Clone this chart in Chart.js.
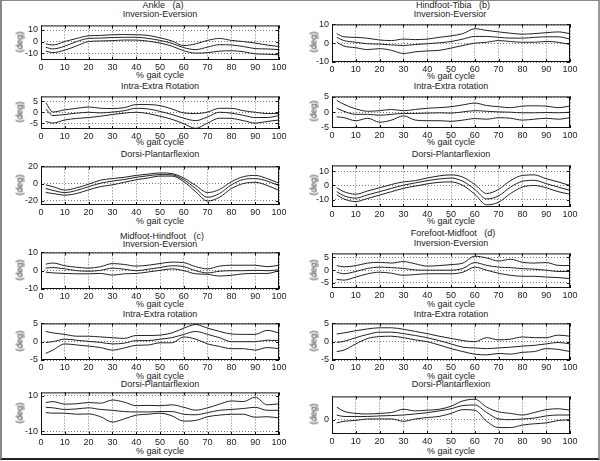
<!DOCTYPE html>
<html>
<head>
<meta charset="utf-8">
<script src="https://cdn.jsdelivr.net/npm/chart.js@4.4.1/dist/chart.umd.min.js"></script>
<style>
  body { margin: 0; background: #fff; }
  #page { position: relative; width: 600px; height: 461px; overflow: hidden; background: #fff;
          font-family: "Liberation Sans", Arial, sans-serif; color: #222; }
  .lbl { position: absolute; font-size: 9px; line-height: 1; white-space: pre; transform: translate(-50%, -50%); }
  .ylab { transform: translate(-50%, -50%) rotate(-90deg); }
  canvas { position: absolute; }
  #frame { position: absolute; left: 0; top: 0; width: 596px; height: 457px;
           border-left: 2px solid #888; border-bottom: 2px solid #222; border-right: 2px solid #999; border-top: 1px solid #888; }
</style>
</head>
<body>
<div id="page"><div id="frame"></div></div>
<script>
// % gait cycle sample points
const pct = [2, 5, 10, 15, 20, 25, 30, 35, 40, 45, 50, 55, 60, 65, 70, 75, 80, 85, 90, 95, 100];
const xTicks = [0, 10, 20, 30, 40, 50, 60, 70, 80, 90, 100];

// (a) Ankle
const ankleInvUp   = [-2, -3, 0, 2.7, 5, 5.3, 5.9, 6.1, 5.9, 5.3, 3.2, 0.5, -3.5, -2, 1, 2.7, 1, 0, -1.3, -3, -4.3];
const ankleInvMean = [-5, -6.4, -4, 0, 2.7, 3, 3.5, 3.7, 3.7, 2.7, 1, -1.6, -5.3, -7, -4.8, -2.7, -3, -4.3, -6.1, -6.4, -7];
const ankleInvLow  = [-8.3, -9.6, -7.5, -3.7, 0, 0.5, 0.8, 1.3, 1.3, 0.3, -1.3, -4, -8, -10, -9.6, -8.3, -8, -8.8, -10.7, -11, -11.5];
const ankleRotUp   = [4.4, 0.1, 1.1, 1.8, 2.4, 1.8, 1.7, 2.1, 3.5, 3.5, 3, 1.5, -0.3, -0.6, 0.1, 1.8, 1.8, 0.7, 0, -0.6, -0.6];
const ankleRotMean = [1.5, -1.5, -1, -0.4, 0, -0.3, 0.1, 0.7, 1.8, 1.5, 0.4, -1, -2.7, -3.8, -2.1, 0, -0.4, -1.4, -2.4, -2.4, -1.5];
const ankleRotLow  = [-4.2, -4.9, -3.5, -2.8, -2.4, -1.8, -1, -0.4, 0, -0.6, -1.8, -3.2, -5.2, -7.3, -4.9, -2.7, -2.8, -3.8, -4.9, -4.2, -3.5];
const ankleDorUp   = [-1.5, -3.6, -7.6, -5, -0.7, 4, 5.8, 7.3, 9.5, 11, 12.4, 11.6, 6.5, -2.2, -10.5, -6.9, 2.2, 8, 9.5, 5.8, 0.4];
const ankleDorMean = [-5.8, -8, -10.5, -8, -3.6, 0.4, 2.9, 4.7, 7.3, 9.1, 10.5, 10.2, 4.4, -5.8, -16, -11.6, -1.5, 4.7, 5.8, 2.9, -2.5];
const ankleDorLow  = [-10.5, -11.6, -13.5, -11.6, -7.3, -3.6, -1.5, 1.5, 4.4, 6.5, 8.7, 8.7, 2.2, -9.5, -20.4, -16, -5.8, 0, 1.5, -2.2, -8];

// (b) Hindfoot-Tibia
const hindInvUp    = [5.1, 3.4, 3.1, 2.6, 1.7, 1.4, 2.2, 1.9, 2.2, 3.1, 3.9, 5.1, 7.7, 6.8, 6, 5.3, 4.8, 5.1, 5.6, 6, 5.1];
const hindInvMean  = [3.1, 1.4, 0.5, -0.3, -0.5, -0.9, -1.2, -0.7, -0.3, 0.2, 0.9, 2.2, 3.6, 3.6, 3.1, 2.7, 2.7, 3.1, 3.4, 3.4, 2.2];
const hindInvLow   = [0.5, -1.5, -2.4, -3.4, -2.9, -3.8, -5.5, -4.6, -4.1, -3.8, -2.6, -1.2, 0, 0.5, 1.4, 0.9, 0.5, 0.5, 0.9, 0.5, -0.7];
const hindRotUp    = [3.9, 2.6, 1.1, 0.3, 0.5, 0.9, 0.5, 0.9, 1.3, 1.5, 1.8, 2.4, 3, 2.2, 1.8, 1.5, 2, 2.1, 2, 1.5, 2];
const hindRotMean  = [1.3, 0.3, -0.7, -0.7, -1, -0.7, -0.4, -0.4, -0.3, -0.2, -0.3, 0.1, 0.5, 0.3, 0.1, 0, -0.2, -0.2, -0.1, -0.2, 0];
const hindRotLow   = [-1.5, -1.8, -2.8, -2, -3.3, -2.6, -1.2, -2.6, -2.8, -2.8, -3, -2.6, -2.1, -2.3, -1.8, -2, -2.6, -2.3, -2, -2.3, -1.8];
const hindDorUp    = [-1.6, -4.3, -6.1, -3.8, -1.6, 0.7, 2.5, 3.4, 5.2, 6.7, 7.4, 5.8, 0.7, -5.6, -2.7, 3.4, 7, 7.4, 4.7, 2.5, 0];
const hindDorMean  = [-4.3, -7.2, -8.8, -6.5, -4.3, -2, 0.2, 1.8, 3.4, 4.5, 5.2, 2.9, -2.7, -9.4, -7.2, -1.1, 2.9, 3.6, 1.3, -1.1, -3.4];
const hindDorLow   = [-6.5, -9.4, -11.2, -9, -6.7, -4.3, -2, -0.4, 1.1, 2.2, 2.5, 0, -6.1, -13.5, -11.7, -5.6, -1.1, 0, -1.6, -4.3, -6.1];

// (c) Midfoot-Hindfoot
const midInvUp     = [3.6, 4.2, 2.7, 1.9, 1.4, 2.2, 3.9, 3.4, 2.5, 3, 3.9, 4.7, 4.4, 2.2, 1, 2.5, 3, 3, 3, 2.2, 3];
const midInvMean   = [1.4, 1.7, 1, 0, -0.3, 0.2, 1.4, 0.8, 0, 0.8, 1.7, 2.7, 2.2, 0, -1.2, -0.3, 0, 0, 0.2, 0, 0.5];
const midInvLow    = [-0.8, -1.2, -1.5, -1.7, -1.7, -1.5, -2.4, -1.7, -1.5, -0.7, 0.2, 1, 0, -1.7, -2, -2.9, -2.5, -1.7, -1.5, -1.5, 0];
const midRotUp     = [2.8, 2.4, 2, 1.5, 1.5, 1.3, 1.1, 0.9, 1.7, 1.7, 1.8, 2.4, 3.7, 4.7, 3.7, 2.8, 2.1, 2, 2, 3.1, 2.4];
const midRotMean   = [-0.2, 0, 0.7, 0.4, 0.1, -0.2, -0.6, -0.4, 0.3, 0.3, 0.7, 1.1, 2, 2.8, 2, 1.1, 0, 0, 0, 0.4, 0.3];
const midRotLow    = [-3.2, -2.3, -0.6, -0.9, -1.2, -1.6, -2.3, -1.7, -1, -0.9, -0.3, -0.3, 1.3, 0.7, -0.6, -1.3, -1.9, -1.9, -2.3, -1.6, -1.9];
const midDorUp     = [6.3, 6.8, 5.4, 5.6, 6.3, 5.9, 7.7, 6.5, 4.5, 4.7, 4.5, 5, 3.6, 2, 3.3, 5.4, 7.2, 6.8, 9.3, 5, 5.6];
const midDorMean   = [3.6, 3.3, 2.4, 2.7, 3.3, 2.4, 1.9, 1.2, 1, 1, 1.2, 1.2, -0.3, -0.6, 0.6, 1.9, 2.4, 2.9, 3.6, 1.9, 1.9];
const midDorLow    = [0.6, 0.3, 0.3, -0.3, -0.1, -1.7, -4.7, -2.9, -0.8, -0.3, 0.3, -1.2, -4.2, -3.8, -1.7, -0.8, -0.3, -0.3, -2, -1.7, -2.4];

// (d) Forefoot-Midfoot
const foreInvUp    = [1.8, 1.3, 1.8, 2.8, 3.1, 2.8, 3.4, 2.5, 1.6, 1.8, 2.2, 2.8, 5.5, 4.8, 3.6, 4.3, 3.1, 2.8, 3, 1.9, 1.8];
const foreInvMean  = [-0.8, -1.4, -0.5, 0.7, 1.2, 1, 0.7, 0.1, 0, 0, 0, 0.7, 3, 1.9, 1.2, 1, 0.6, 0.4, 0, -0.5, -0.5];
const foreInvLow   = [-3.6, -3.9, -2.7, -1.4, -0.8, -1.2, -2, -1.7, -1.4, -1.4, -1.4, -0.8, 1.2, 0, -1.2, -2, -2.4, -2.4, -2.7, -2.9, -3.3];
const foreRotUp    = [2.1, 2.4, 3, 3.5, 3.8, 3.8, 3.4, 2.8, 2.2, 1.5, 0.9, 0.3, 0, 1.1, 0.5, 0.7, 1.3, 1.1, 1.1, 1.8, 1.5];
const foreRotMean  = [-0.2, 0.1, 1.1, 2, 2.6, 2.6, 2.2, 1.7, 1.1, 0.3, -0.6, -1.5, -1.7, -1.9, -1.7, -1.5, -1.2, -1, -0.6, -0.2, -0.6];
const foreRotLow   = [-2.7, -2.3, -0.6, 0.9, 1.4, 1.5, 1.1, 0.5, 0, -0.9, -1.9, -2.7, -3.4, -3.6, -3.2, -3.4, -2.9, -2.7, -1.9, -2.1, -2.7];
const foreDorUp    = [7, 4.7, 3.5, 3.2, 3.5, 4, 5.8, 4.9, 5.3, 5.8, 7.5, 10.5, 11.4, 7, 4.4, 3.5, 2.6, 4, 5.6, 6.1, 5.3];
const foreDorMean  = [2.6, 1.8, 1.8, 1.8, 2.1, 2.3, 2.6, 3.2, 3.9, 4.9, 6.1, 7.9, 8.2, 4, 0.4, 0, 0.4, 0.9, 2.1, 2.6, 2.6];
const foreDorLow   = [-1.8, -0.9, -0.4, 0.4, 0.4, 0.4, -0.9, 0.4, 1.2, 1.8, 3.5, 5.6, 5.3, -0.9, -4.4, -4.4, -3, -2.3, -1.8, -0.5, 0];

// panel placement: plot box in page pixels, y range and y tick labels
const panels = [
  { left: 41,  top: 23,  w: 238, h: 37, yMin: -16, yMax: 14,   yTicks: [-10, 0, 10], lines: [ankleInvUp, ankleInvMean, ankleInvLow] },
  { left: 41,  top: 94,  w: 238, h: 35, yMin: -7.6, yMax: 7.2, yTicks: [-5, 0, 5],   lines: [ankleRotUp, ankleRotMean, ankleRotLow] },
  { left: 41,  top: 164, w: 238, h: 41, yMin: -25, yMax: 20,   yTicks: [-20, 0, 20], lines: [ankleDorUp, ankleDorMean, ankleDorLow] },
  { left: 41,  top: 250, w: 238, h: 39, yMin: -10, yMax: 10,   yTicks: [-10, 0, 10], lines: [midInvUp, midInvMean, midInvLow] },
  { left: 41,  top: 321, w: 238, h: 39, yMin: -5, yMax: 5,     yTicks: [-5, 0, 5],   lines: [midRotUp, midRotMean, midRotLow] },
  { left: 41,  top: 390, w: 238, h: 45, yMin: -12, yMax: 12,   yTicks: [-10, 10],    lines: [midDorUp, midDorMean, midDorLow] },
  { left: 332, top: 22,  w: 238, h: 40, yMin: -10, yMax: 10,   yTicks: [-10, 0, 10], lines: [hindInvUp, hindInvMean, hindInvLow] },
  { left: 332, top: 94,  w: 238, h: 34, yMin: -5.2, yMax: 5.2, yTicks: [-5, 0, 5],   lines: [hindRotUp, hindRotMean, hindRotLow] },
  { left: 332, top: 163, w: 238, h: 44, yMin: -15, yMax: 14,   yTicks: [-10, 0, 10], lines: [hindDorUp, hindDorMean, hindDorLow] },
  { left: 332, top: 251, w: 238, h: 37, yMin: -7, yMax: 6.6,   yTicks: [-5, 0, 5],   lines: [foreInvUp, foreInvMean, foreInvLow] },
  { left: 332, top: 321, w: 238, h: 39, yMin: -5, yMax: 5,     yTicks: [-5, 0, 5],   lines: [foreRotUp, foreRotMean, foreRotLow] },
  { left: 332, top: 394, w: 238, h: 40, yMin: -8, yMax: 13,    yTicks: [0],          lines: [foreDorUp, foreDorMean, foreDorLow] }
];

// text labels: [text, centre x, centre y]
const labels = [
  ["Ankle   (a)", 163, 5], ["Inversion-Eversion", 160, 14], ["% gait cycle", 160, 75],
  ["Intra-Extra Rotation", 160, 86], ["% gait cycle", 160, 142],
  ["Dorsi-Plantarflexion", 160, 154], ["% gait cycle", 160, 221],
  ["Midfoot-Hindfoot   (c)", 162, 236], ["Inversion-Eversion", 160, 244], ["% gait cycle", 160, 304],
  ["Intra-Extra rotation", 160, 314], ["% gait cycle", 160, 376],
  ["Dorsi-Plantarflexion", 160, 384], ["% gait cycle", 160, 451],
  ["Hindfoot-Tibia   (b)", 453, 5], ["Inversion-Eversior", 450, 14], ["% gait cycle", 451, 76],
  ["Intra-Extra rotation", 451, 86], ["% gait cycle", 451, 142],
  ["Dorsi-Plantarflexion", 451, 154], ["% gait cycle", 451, 221],
  ["Forefoot-Midfoot   (d)", 453, 233], ["Inversion-Eversion", 451, 243], ["% gait cycle", 451, 304],
  ["Intra-Extra rotation", 451, 314], ["% gait cycle", 451, 376],
  ["Dorsi-Plantarflexion", 451, 384], ["% gait cycle", 451, 451]
];

const page = document.getElementById('page');

labels.forEach(([text, x, y]) => {
  const d = document.createElement('div');
  d.className = 'lbl';
  d.textContent = text;
  d.style.left = x + 'px';
  d.style.top = y + 'px';
  page.appendChild(d);
});

// box around plot area plus inward tick marks (matlab style)
const boxPlugin = {
  id: 'box',
  afterDraw(chart) {
    const { ctx, chartArea: a, scales: { x, y } } = chart;
    ctx.save();
    ctx.strokeStyle = '#111';
    ctx.lineWidth = 1;
    ctx.strokeRect(a.left + 0.5, a.top + 0.5, a.right - a.left - 1, a.bottom - a.top - 1);
    ctx.beginPath();
    x.ticks.forEach(t => {
      const px = Math.round(x.getPixelForValue(t.value)) + 0.5;
      ctx.moveTo(px, a.bottom); ctx.lineTo(px, a.bottom - 3);
      ctx.moveTo(px, a.top); ctx.lineTo(px, a.top + 3);
    });
    y.ticks.forEach(t => {
      const py = Math.round(y.getPixelForValue(t.value)) + 0.5;
      ctx.moveTo(a.left, py); ctx.lineTo(a.left + 3, py);
      ctx.moveTo(a.right, py); ctx.lineTo(a.right - 3, py);
    });
    ctx.stroke();
    ctx.restore();
  }
};

const padTop = 6, padRight = 14, yAxisW = 40, xAxisH = 12;
const tickFont = { family: '"Liberation Sans", Arial, sans-serif', size: 9 };

panels.forEach(p => {
  const canvas = document.createElement('canvas');
  canvas.width = p.w + yAxisW + padRight;
  canvas.height = p.h + padTop + xAxisH;
  canvas.style.left = (p.left - yAxisW) + 'px';
  canvas.style.top = (p.top - padTop) + 'px';
  page.appendChild(canvas);

  const ylab = document.createElement('div');
  ylab.className = 'lbl ylab';
  ylab.textContent = '(deg)';
  ylab.style.left = (p.left < 100 ? 20 : 314) + 'px';
  ylab.style.top = (p.top + p.h / 2) + 'px';
  page.appendChild(ylab);

  new Chart(canvas.getContext('2d'), {
    type: 'line',
    data: {
      datasets: p.lines.map(vals => ({
        data: pct.map((x, i) => ({ x, y: vals[i] })),
        borderColor: '#222',
        borderWidth: 1,
        pointRadius: 0,
        fill: false,
        cubicInterpolationMode: 'monotone'
      }))
    },
    options: {
      responsive: false,
      animation: false,
      layout: { padding: { top: padTop, right: padRight, left: 0, bottom: 0 } },
      plugins: { legend: { display: false }, tooltip: { enabled: false } },
      scales: {
        x: {
          type: 'linear', min: 0, max: 100,
          afterBuildTicks: s => { s.ticks = xTicks.map(v => ({ value: v })); },
          afterFit: s => { s.height = xAxisH; },
          ticks: { font: tickFont, color: '#222', padding: 2, maxRotation: 0 },
          grid: { color: '#777', lineWidth: 1, drawTicks: false },
          border: { display: false, dash: [1, 2] }
        },
        y: {
          min: p.yMin, max: p.yMax,
          afterBuildTicks: s => { s.ticks = p.yTicks.map(v => ({ value: v })); },
          afterFit: s => { s.width = yAxisW; },
          ticks: { font: tickFont, color: '#222', padding: 3 },
          grid: { color: '#777', lineWidth: 1, drawTicks: false },
          border: { display: false, dash: [1, 2] }
        }
      }
    },
    plugins: [boxPlugin]
  });
});
</script>
</body>
</html>
